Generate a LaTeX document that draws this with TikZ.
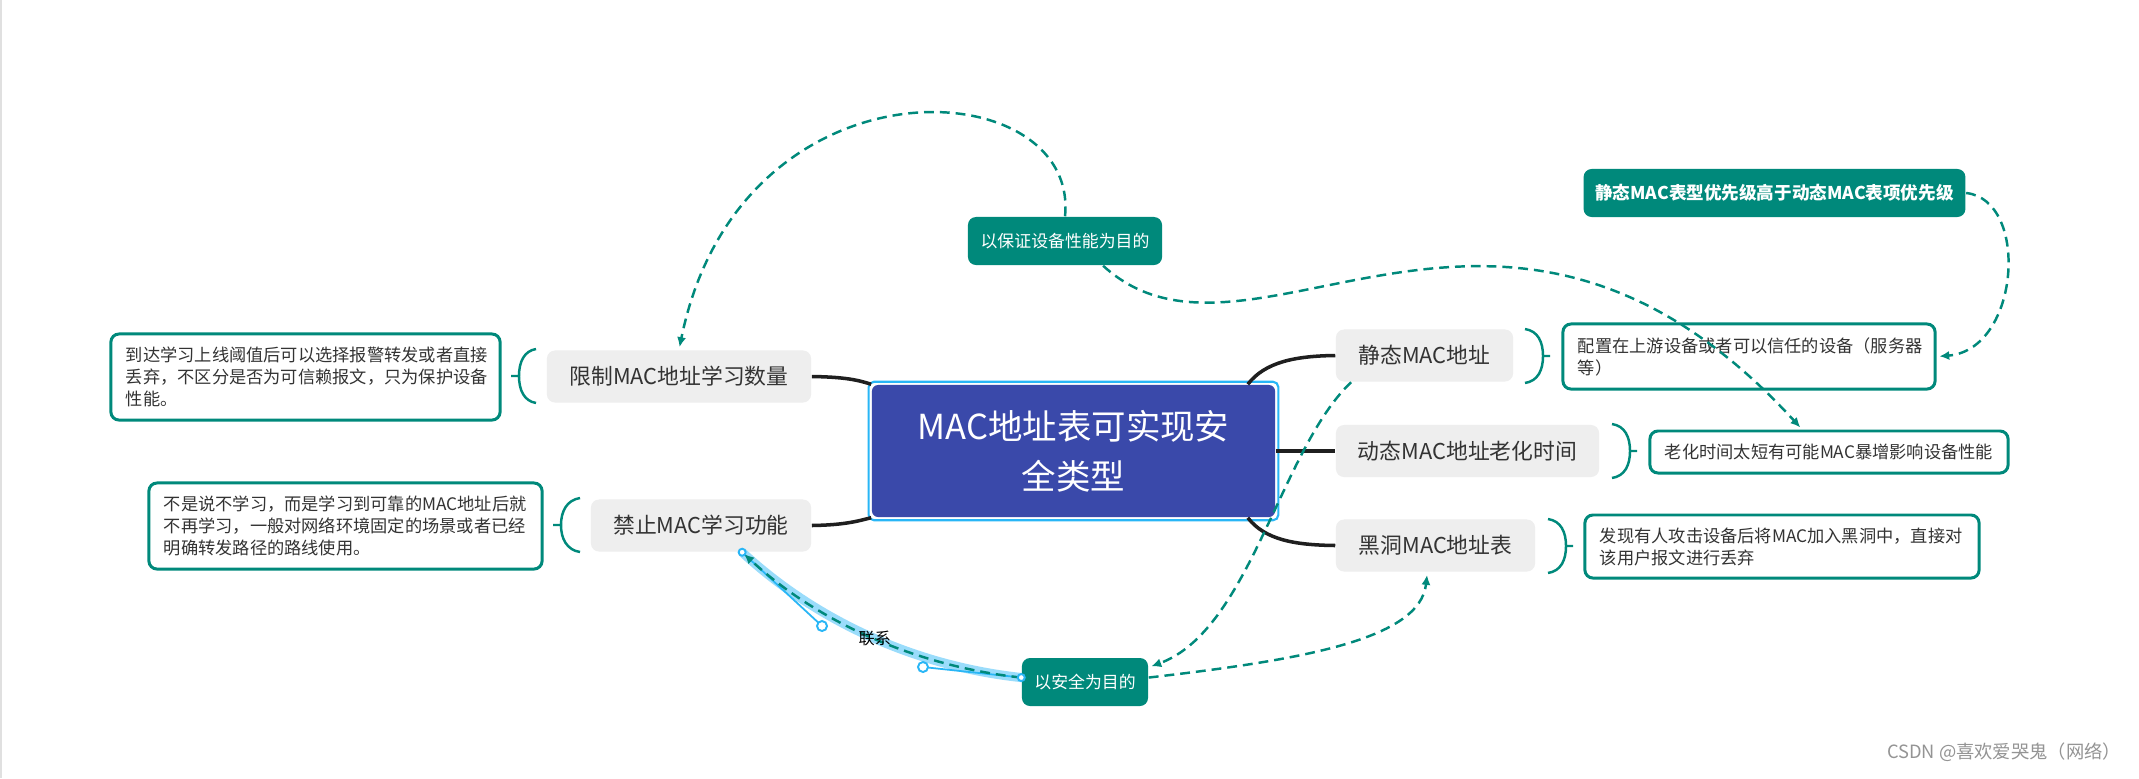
\documentclass[tikz,border=0pt]{standalone}
\usepackage{fontspec}
\setmainfont{Noto Sans CJK SC}
\usetikzlibrary{arrows.meta,calc}

\definecolor{mapteal}{RGB}{0,137,123}
\definecolor{rootblue}{RGB}{58,73,170}
\definecolor{selblue}{RGB}{41,182,246}
\definecolor{bandblue}{RGB}{129,212,250}
\definecolor{boxgray}{RGB}{238,238,238}
\definecolor{textgray}{RGB}{51,51,51}

\begin{document}
\begin{tikzpicture}[x=0.01cm, y=-0.01cm,
  root/.style={fill=rootblue, text=white, rounded corners=1.8pt, minimum width=4.03cm, minimum height=1.32cm, align=center, font=\fontsize{9.8pt}{14.2pt}\selectfont},
  branch/.style={fill=boxgray, text=textgray, rounded corners=2.3pt, minimum height=0.52cm, font=\fontsize{6.2pt}{7.5pt}\selectfont},
  note/.style={draw=mapteal, line width=0.85pt, fill=white, text=textgray, rounded corners=2.3pt, inner xsep=0.15cm, align=left, font=\fontsize{4.9pt}{6.26pt}\selectfont},
  goal/.style={fill=mapteal, text=white, rounded corners=2.3pt, minimum height=0.48cm, font=\fontsize{4.8pt}{6pt}\selectfont},
  link/.style={draw=black!88, line width=1pt},
  brk/.style={draw=mapteal, line width=0.7pt},
  rel/.style={draw=mapteal, line width=0.7pt, dash pattern=on 2.8pt off 1.7pt, shorten >=0.8pt, -{Latex[length=2.8pt,width=2.6pt]}},
  band/.style={draw=bandblue, line width=2.6pt, opacity=0.8},
  handle/.style={draw=selblue, line width=0.5pt},
  knob/.style={draw=selblue, fill=white, line width=0.55pt},
  linktext/.style={text=black, font=\fontsize{4.6pt}{5pt}\selectfont, inner sep=0pt},
  wmark/.style={text=black!42, font=\fontsize{5.2pt}{6pt}\selectfont}]

\useasboundingbox (0,0) rectangle (2139,778);
\fill[white] (0,0) rectangle (2139,778);
\draw[black!12, line width=0.6pt] (1,0) -- (1,778);

% centre
\node[root] (root) at (1073.5,451) {MAC地址表可实现安\\全类型};
\draw[selblue, line width=0.6pt, rounded corners=1.5pt] ($(root.north west)+(-2.5,-2.5)$) rectangle ($(root.south east)+(2.5,2.5)$);

% branches
\node[branch, minimum width=2.64cm] (lim) at (679,376.5) {限制MAC地址学习数量};
\node[branch, minimum width=2.20cm] (dis) at (701,525.5) {禁止MAC学习功能};
\node[branch, minimum width=1.77cm] (sta) at (1424.5,355.5) {静态MAC地址};
\node[branch, minimum width=2.63cm] (dyn) at (1467.5,451) {动态MAC地址老化时间};
\node[branch, minimum width=1.99cm] (blk) at (1435.5,545.5) {黑洞MAC地址表};

% notes
\node[note, text width=3.59cm, minimum height=0.86cm] (n1) at (305.5,377) {到达学习上线阈值后可以选择报警转发或者直接\\丢弃，不区分是否为可信赖报文，只为保护设备\\性能。};
\node[note, text width=3.63cm, minimum height=0.86cm] (n2) at (345.5,526) {不是说不学习，而是学习到可靠的MAC地址后就\\不再学习，一般对网络环境固定的场景或者已经\\明确转发路径的路线使用。};
\node[note, text width=3.42cm, minimum height=0.65cm] (n3) at (1749,356.5) {配置在上游设备或者可以信任的设备（服务器\\等）};
\node[note, text width=3.28cm, minimum height=0.42cm] (n4) at (1829,452) {老化时间太短有可能MAC暴增影响设备性能};
\node[note, text width=3.64cm, minimum height=0.63cm] (n5) at (1782,546.5) {发现有人攻击设备后将MAC加入黑洞中，直接对\\该用户报文进行丢弃};

% goals
\node[goal, minimum width=3.71cm, font=\fontsize{5pt}{6pt}\selectfont\bfseries] (pri) at (1774.5,193) {静态MAC表型优先级高于动态MAC表项优先级};
\node[goal, minimum width=1.94cm] (perf) at (1065,241) {以保证设备性能为目的};
\node[goal, minimum width=1.26cm] (safe) at (1085,682) {以安全为目的};

\node[wmark] (csdn) at (2004,752) {CSDN @喜欢爱哭鬼（网络）};

% branch lines
\draw[link] (lim.east) .. controls (845,377) and (858,380) .. (root.north west);
\draw[link] (dis.east) .. controls (845,525) and (858,521) .. (root.south west);
\draw[link] ($(root.north east)+(-28,0)$) .. controls (1265,362) and (1295,356) .. (sta.west);
\draw[link] (root.east) -- (dyn.west);
\draw[link] ($(root.south east)+(-28,0)$) .. controls (1265,540) and (1295,545) .. (blk.west);

% brackets
\draw[brk] (536,349) .. controls (524,351) and (519,362) .. (519,376) .. controls (519,390) and (524,401) .. (536,403) (519,376) -- (511,376);
\draw[brk] (580,498) .. controls (567,500) and (561,511) .. (561,525) .. controls (561,539) and (567,550) .. (580,552) (561,525) -- (553,525);
\draw[brk] (1525,329) .. controls (1538,331) and (1543,342) .. (1543,356) .. controls (1543,370) and (1538,381) .. (1525,383) (1543,356) -- (1550,356);
\draw[brk] (1612,424) .. controls (1625,426) and (1630,437) .. (1630,451) .. controls (1630,465) and (1625,476) .. (1612,478) (1630,451) -- (1637,451);
\draw[brk] (1548,519) .. controls (1561,521) and (1566,532) .. (1566,546) .. controls (1566,560) and (1561,571) .. (1548,573) (1566,546) -- (1573,546);

% relations
\draw[rel] (perf.north) .. controls (1080,70) and (740,50) .. (lim.north);
\draw[rel] (perf.-33) .. controls (1250,400) and (1500,100) .. (n4.140);
\draw[rel] (pri.east) .. controls (2030,200) and (2020,350) .. (n3.east);
\draw[rel] (sta.200) .. controls (1280,450) and (1250,630) .. (safe.13);
\draw[rel] (safe.4) .. controls (1300,660) and (1420,640) .. (blk.253);

% selected relation
\coordinate (h1) at (822,626);
\coordinate (h2) at (923,667);
\draw[band] (dis.-33) .. controls (h1) and (h2) .. (safe.176);
\draw[handle] (dis.-33) -- (h1) (safe.176) -- (h2);
\draw[rel] (safe.176) .. controls (h2) and (h1) .. (dis.-33) node[linktext, pos=0.5] {联系};
\draw[knob] (h1) circle (5) (h2) circle (5);
\draw[knob] (dis.-33) circle (3.5) (safe.176) circle (3.5);

\end{tikzpicture}
\end{document}
